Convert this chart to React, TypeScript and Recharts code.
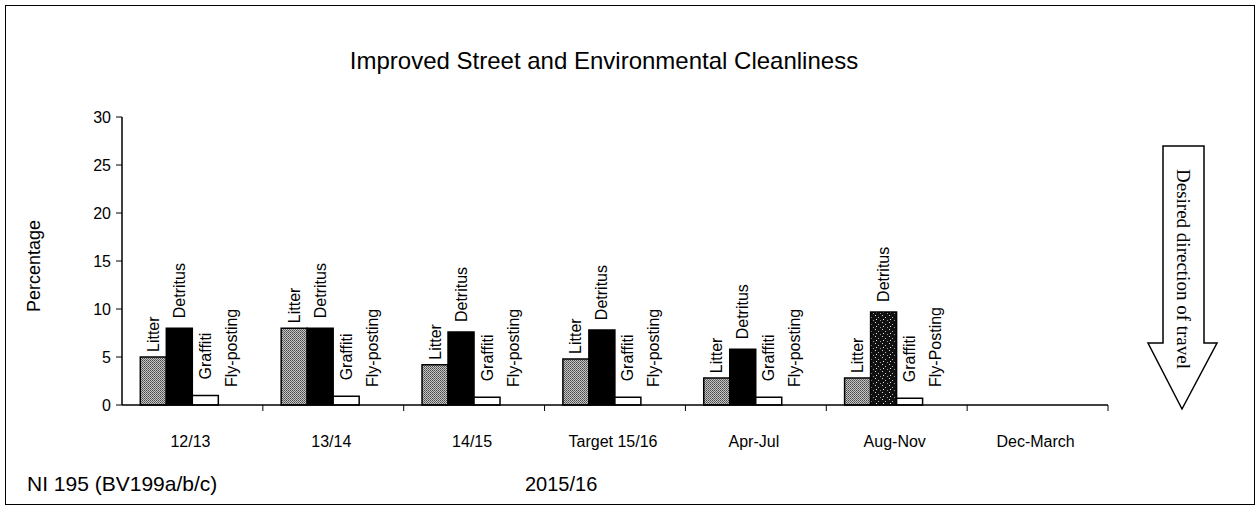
import React from 'react';
import { BarChart, Bar, XAxis, YAxis, LabelList, Cell } from 'recharts';

const categories = ['12/13', '13/14', '14/15', 'Target 15/16', 'Apr-Jul', 'Aug-Nov', 'Dec-March'];
const litter = [5, 8, 4.2, 4.8, 2.8, 2.8, null];
const detritus = [8, 8, 7.6, 7.8, 5.8, 9.7, null];
const graffiti = [1, 0.9, 0.8, 0.8, 0.8, 0.7, null];
const flyPosting = [0, 0, 0, 0, 0, 0, null];

const litterLabels = ['Litter', 'Litter', 'Litter', 'Litter', 'Litter', 'Litter', ''];
const detritusLabels = ['Detritus', 'Detritus', 'Detritus', 'Detritus', 'Detritus', 'Detritus', ''];
const graffitiLabels = ['Graffiti', 'Graffiti', 'Graffiti', 'Graffiti', 'Graffiti', 'Graffiti', ''];
const flyLabels = ['Fly-posting', 'Fly-posting', 'Fly-posting', 'Fly-posting', 'Fly-posting', 'Fly-Posting', ''];

const yTicks = [0, 5, 10, 15, 20, 25, 30];

const data = categories.map((name, i) => ({
  name,
  litter: litter[i],
  detritus: detritus[i],
  graffiti: graffiti[i],
  flyPosting: flyPosting[i]
}));

const FONT = '"Liberation Sans", Arial, sans-serif';

const vText = (cx: number, top: number, t: string) => (
  <text
    x={cx}
    y={top}
    transform={`rotate(-90 ${cx} ${top})`}
    textAnchor="start"
    dominantBaseline="central"
    fontSize={16}
    fontFamily={FONT}
    fill="#000"
  >
    {t}
  </text>
);

// rotated label sitting above each bar
const rotatedLabel = (texts: string[], gap: number) => (props: any) => {
  const { x, y, width, index } = props;
  const t = texts[index];
  if (!t) return null;
  return vText(Number(x) + Number(width) / 2, Number(y) - gap, t);
};

// fly-posting bars are zero height, so their label is placed one bar to the right of graffiti
const flyLabel = (texts: string[], gap: number) => (props: any) => {
  const { x, y, width, height, index } = props;
  const t = texts[index];
  if (!t) return null;
  const base = Number(y) + Number(height);
  return vText(Number(x) + Number(width) * 1.5, base - gap, t);
};

// category label in the middle, tick mark at the right edge of the band
const CategoryTick = (props: any) => {
  const { x, y, payload } = props;
  const half = payload && payload.offset ? payload.offset : 70;
  return (
    <g>
      <line x1={x + half} x2={x + half} y1={y} y2={y + 6} stroke="#000" strokeWidth={1} />
      <text x={x - 2} y={y + 42} textAnchor="middle" fontSize={16} fontFamily={FONT} fill="#000">
        {payload.value}
      </text>
    </g>
  );
};

export default function App() {
  return (
    <div
      style={{
        position: 'absolute',
        left: 5,
        top: 5,
        width: 1250,
        height: 500,
        border: '1.5px solid #000',
        boxSizing: 'border-box',
        background: '#fff',
        fontFamily: FONT
      }}
    >
      <div
        style={{
          position: 'absolute',
          left: 0,
          width: 1196,
          top: 40,
          textAlign: 'center',
          fontSize: 24,
          lineHeight: '30px'
        }}
      >
        Improved Street and Environmental Cleanliness
      </div>

      <div
        style={{
          position: 'absolute',
          left: 28,
          top: 260,
          transform: 'translate(-50%, -50%) rotate(-90deg)',
          fontSize: 18,
          whiteSpace: 'nowrap'
        }}
      >
        Percentage
      </div>

      <BarChart
        width={1250}
        height={500}
        data={data}
        margin={{ top: 111, right: 148, bottom: 71, left: 76 }}
        barCategoryGap="13%"
        barGap={0}
      >
        <defs>
          <pattern id="litterFill" patternUnits="userSpaceOnUse" width="2" height="2">
            <rect width="2" height="2" fill="#c4c4c4" />
            <rect x="0" y="0" width="1" height="1" fill="#4a4a4a" />
            <rect x="1" y="1" width="1" height="1" fill="#6a6a6a" />
          </pattern>
          <pattern id="speckle" patternUnits="userSpaceOnUse" width="7" height="7">
            <rect width="7" height="7" fill="#111" />
            <rect x="1" y="1" width="1" height="1" fill="#ddd" />
            <rect x="4" y="3" width="1" height="1" fill="#bbb" />
            <rect x="2" y="5" width="1" height="1" fill="#eee" />
            <rect x="6" y="6" width="1" height="1" fill="#999" />
          </pattern>
        </defs>
        <XAxis
          dataKey="name"
          height={30}
          tickLine={false}
          tickSize={0}
          tickMargin={0}
          tick={<CategoryTick />}
          interval={0}
          axisLine={{ stroke: '#000', strokeWidth: 1.5 }}
        />
        <YAxis
          width={40}
          domain={[0, 30]}
          ticks={yTicks}
          tickSize={6}
          tickMargin={5}
          tick={{ fontSize: 16, fill: '#000', fontFamily: FONT }}
          tickLine={{ stroke: '#000' }}
          axisLine={{ stroke: '#000', strokeWidth: 1.5 }}
        />
        <Bar dataKey="litter" fill="url(#litterFill)" stroke="#000" strokeWidth={1.5} isAnimationActive={false}>
          <LabelList dataKey="litter" content={rotatedLabel(litterLabels, 5)} />
        </Bar>
        <Bar dataKey="detritus" fill="#000" stroke="#000" strokeWidth={1.5} isAnimationActive={false}>
          {data.map((d, i) => (
            <Cell key={`det-${i}`} fill={d.name === 'Aug-Nov' ? 'url(#speckle)' : '#000'} />
          ))}
          <LabelList dataKey="detritus" content={rotatedLabel(detritusLabels, 10)} />
        </Bar>
        <Bar dataKey="graffiti" fill="#fff" stroke="#000" strokeWidth={1.5} isAnimationActive={false}>
          <LabelList dataKey="graffiti" content={rotatedLabel(graffitiLabels, 16)} />
          <LabelList dataKey="graffiti" content={flyLabel(flyLabels, 18)} />
        </Bar>
        <Bar dataKey="flyPosting" fill="#fff" stroke="#000" strokeWidth={1.5} isAnimationActive={false} />
      </BarChart>

      <svg
        width={80}
        height={280}
        style={{ position: 'absolute', left: 1135, top: 135 }}
      >
        <polygon
          points="22,5 63,5 63,202 76,202 41,268 7,202 22,202"
          fill="#fff"
          stroke="#000"
          strokeWidth={1.5}
        />
        <text
          x={42}
          y={128}
          transform="rotate(90 42 128)"
          textAnchor="middle"
          dominantBaseline="central"
          fontSize={19}
          fontFamily='"Liberation Serif", "Times New Roman", serif'
          fill="#000"
        >
          Desired direction of travel
        </text>
      </svg>

      <div style={{ position: 'absolute', left: 21, top: 466, fontSize: 21, lineHeight: '24px', whiteSpace: 'nowrap' }}>
        NI 195 (BV199a/b/c)
      </div>
      <div style={{ position: 'absolute', left: 519, top: 466, fontSize: 20, lineHeight: '24px', whiteSpace: 'nowrap' }}>
        2015/16
      </div>
    </div>
  );
}
